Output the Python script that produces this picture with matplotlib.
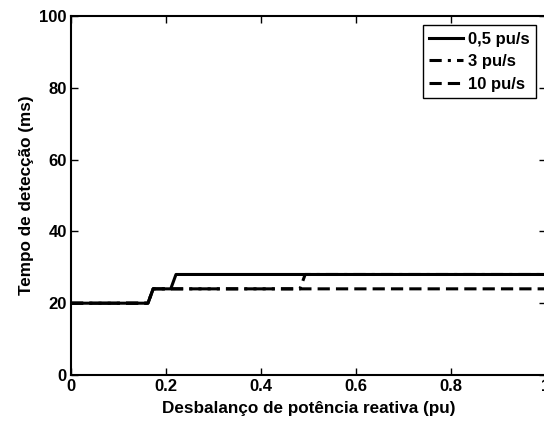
import matplotlib
matplotlib.use("Agg")
import matplotlib.pyplot as plt

plt.rcParams['font.family'] = ['Liberation Sans', 'DejaVu Sans']
plt.rcParams['font.weight'] = 'bold'

# Data
x_05 = [0, 0.162, 0.173, 0.21, 0.221, 1.0]
y_05 = [20, 20, 24, 24, 28, 28]
x_3 = [0, 0.162, 0.173, 0.482, 0.493, 1.0]
y_3 = [20, 20, 24, 24, 28, 28]
x_10 = [0, 0.162, 0.173, 1.0]
y_10 = [20, 20, 24, 24]
labels = ['0,5 pu/s', '3 pu/s', '10 pu/s']
xticks = [0, 0.2, 0.4, 0.6, 0.8, 1]
xticklabels = ['0', '0.2', '0.4', '0.6', '0.8', '1']
yticks = [0, 20, 40, 60, 80, 100]

W, H = 544, 421
fig = plt.figure(figsize=(W / 100, H / 100), dpi=100)
ax = fig.add_axes([71 / W, (H - 375) / H, 475 / W, 359 / H])

ax.plot(x_05, y_05, color='black', lw=2.2, linestyle='-', label=labels[0])
ax.plot(x_3, y_3, color='black', lw=2.2, linestyle=(0, (4, 2, 1, 2)), label=labels[1])
ax.plot(x_10, y_10, color='black', lw=2.2, linestyle=(0, (4, 2)), label=labels[2])

ax.set_xlim(0, 1)
ax.set_ylim(0, 100)
ax.set_xticks(xticks)
ax.set_xticklabels(xticklabels)
ax.set_yticks(yticks)
ax.tick_params(direction='in', length=5, width=1, top=True, right=True,
               labelsize=12, pad=3)
for lab in ax.get_xticklabels() + ax.get_yticklabels():
    lab.set_fontweight('bold')
for s in ax.spines.values():
    s.set_linewidth(1.5)

ax.set_xlabel('Desbalanço de potência reativa (pu)', fontsize=12.3, fontweight='bold', labelpad=5)
ax.set_ylabel('Tempo de detecção (ms)', fontsize=12.3, fontweight='bold', labelpad=4)

leg = ax.legend(loc='upper right', bbox_to_anchor=(536 / W, 1 - 25 / H),
                bbox_transform=fig.transFigure, fancybox=False, framealpha=1,
                edgecolor='black', prop={'weight': 'bold', 'size': 12},
                handlelength=2.0, handletextpad=0.3, borderpad=0.4,
                labelspacing=0.45, borderaxespad=0)
leg.get_frame().set_linewidth(1.0)

fig.savefig('out.png', dpi=100)
